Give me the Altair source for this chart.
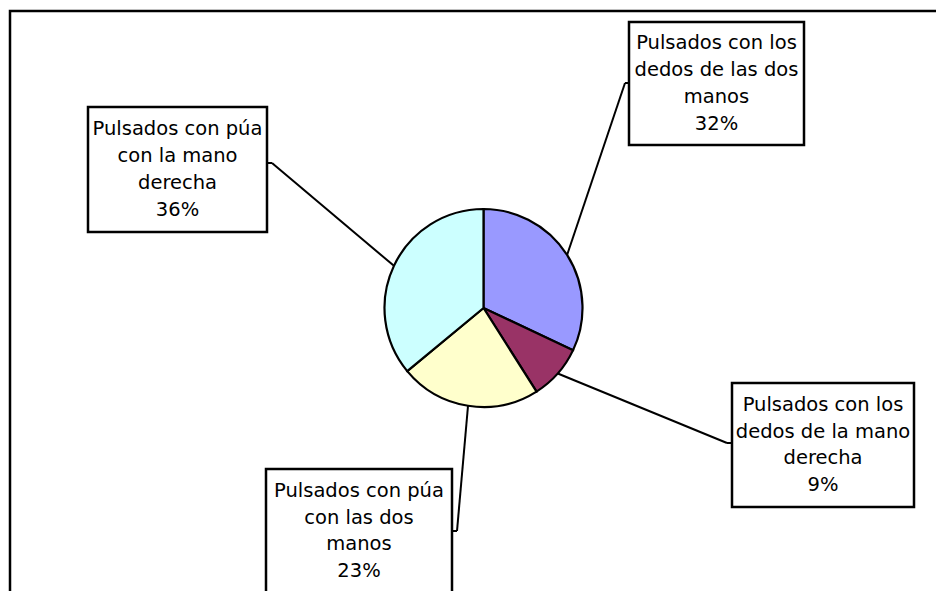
import altair as alt
import pandas as pd

# ---- data ----
categories = [
    "Pulsados con los dedos de las dos manos",
    "Pulsados con los dedos de la mano derecha",
    "Pulsados con púa con las dos manos",
    "Pulsados con púa con la mano derecha",
]
values = [32, 9, 23, 36]
colors = ["#9999FF", "#993366", "#FFFFCC", "#CCFFFF"]

# ---- layout (label text wrapping, boxes, leader elbows) ----
wrapped = [
    "Pulsados con los\ndedos de las dos\nmanos",
    "Pulsados con los\ndedos de la mano\nderecha",
    "Pulsados con púa\ncon las dos\nmanos",
    "Pulsados con púa\ncon la mano\nderecha",
]
box_x1 = [621, 724, 258, 80]
box_x2 = [796, 906, 444, 259]
box_y1 = [14, 375, 461, 99]
box_y2 = [137, 499, 585, 224]
elbow_x = [617, 719, 449, 264]
elbow_y = [75, 435, 523, 155]
attach_x = [621, 724, 444, 259]

W, H = 928, 583
CX, CY, R = 475.5, 300, 99
LH = 26.7

df = pd.DataFrame({
    "label": categories,
    "value": values,
    "idx": list(range(len(categories))),
    "wrapped": wrapped,
    "bx1": box_x1, "bx2": box_x2, "by1": box_y1, "by2": box_y2,
    "ex": elbow_x, "ey": elbow_y, "ax": attach_x,
})

xs = alt.Scale(domain=[0, W], range=[0, W])
ys = alt.Scale(domain=[0, H], range=[0, H])

base = alt.Chart(df)

frame = alt.Chart(pd.DataFrame({"a": [0]})).mark_rect(
    fill=None, stroke="black", strokeWidth=2.5
).encode(x=alt.value(2), x2=alt.value(W + 40), y=alt.value(3), y2=alt.value(H + 40))

pie = base.mark_arc(outerRadius=R, stroke="black", strokeWidth=2.2).encode(
    theta=alt.Theta("value:Q", stack=True),
    color=alt.Color("label:N", scale=alt.Scale(domain=categories, range=colors), legend=None),
    order=alt.Order("idx:Q"),
    x=alt.value(CX),
    y=alt.value(CY),
)

lead = base.transform_window(
    cum="sum(value)", sort=[alt.SortField("idx")], frame=[None, 0]
).transform_joinaggregate(total="sum(value)").transform_calculate(
    mid="(datum.cum - datum.value/2)/datum.total*2*PI",
).transform_calculate(
    px=f"{CX} + {R}*sin(datum.mid)",
    py=f"{CY} - {R}*cos(datum.mid)",
)

lead1 = lead.mark_rule(color="black", strokeWidth=2).encode(
    x=alt.X("px:Q", scale=xs, axis=None),
    y=alt.Y("py:Q", scale=ys, axis=None),
    x2="ex:Q",
    y2="ey:Q",
)
lead2 = base.mark_rule(color="black", strokeWidth=2).encode(
    x=alt.X("ex:Q", scale=xs, axis=None),
    y=alt.Y("ey:Q", scale=ys, axis=None),
    x2="ax:Q",
    y2="ey:Q",
)

boxes = base.mark_rect(fill="white", stroke="black", strokeWidth=2.5).encode(
    x=alt.X("bx1:Q", scale=xs, axis=None),
    x2="bx2:Q",
    y=alt.Y("by1:Q", scale=ys, axis=None),
    y2="by2:Q",
)

texts = base.transform_joinaggregate(total="sum(value)").transform_calculate(
    cx="(datum.bx1 + datum.bx2)/2",
    cy="(datum.by1 + datum.by2)/2",
    txt="datum.wrapped + '\\n' + format(datum.value/datum.total, '.0%')",
).mark_text(
    font="DejaVu Sans", fontSize=19.5, lineHeight=LH, lineBreak="\n",
    align="center", baseline="middle", color="black", dy=-1.5 * LH,
).encode(
    x=alt.X("cx:Q", scale=xs, axis=None),
    y=alt.Y("cy:Q", scale=ys, axis=None),
    text="txt:N",
)

chart = alt.layer(frame, pie, lead1, lead2, boxes, texts).properties(
    width=W, height=H, autosize="none", padding=0
).configure_view(stroke=None)

chart.save("out.html", embed_options={"renderer": "svg", "actions": False})
